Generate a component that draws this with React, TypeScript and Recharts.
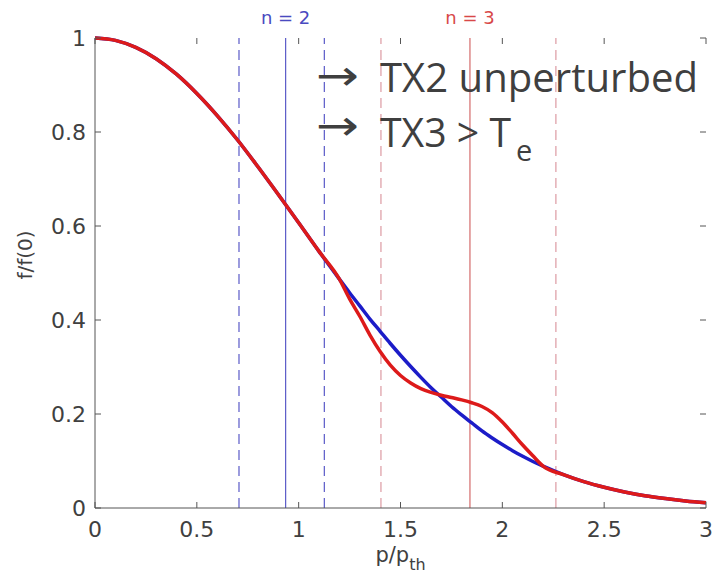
import { LineChart, Line, XAxis, YAxis, ReferenceLine } from 'recharts';

// p / p_th sample points
const P = [
  0, 0.1, 0.2, 0.3, 0.4, 0.5, 0.6, 0.7, 0.8, 0.9, 1.0, 1.1, 1.2,
  1.25, 1.3, 1.35, 1.4, 1.45, 1.5, 1.55, 1.6, 1.65, 1.7, 1.75, 1.8, 1.85, 1.9, 1.95, 2.0,
  2.05, 2.1, 2.15, 2.2, 2.3, 2.4, 2.5, 2.6, 2.7, 2.8, 2.9, 3.0,
];

// unperturbed Maxwellian (blue)
const MAXWELLIAN = [
  1.0, 0.995, 0.98, 0.956, 0.923, 0.882, 0.835, 0.783, 0.726, 0.667, 0.607, 0.546, 0.487,
  0.458, 0.43, 0.402, 0.376, 0.35, 0.325, 0.301, 0.278, 0.256, 0.236, 0.216, 0.198, 0.181, 0.164, 0.149, 0.135,
  0.122, 0.11, 0.099, 0.089, 0.071, 0.056, 0.044, 0.034, 0.026, 0.02, 0.015, 0.011,
];

// distribution with n = 3 heating (red)
const PERTURBED = [
  1.0, 0.995, 0.98, 0.956, 0.923, 0.882, 0.835, 0.783, 0.726, 0.667, 0.607, 0.546, 0.487,
  0.445, 0.408, 0.368, 0.333, 0.304, 0.282, 0.266, 0.254, 0.246, 0.24, 0.235, 0.23, 0.224, 0.216, 0.203, 0.183,
  0.159, 0.134, 0.111, 0.089, 0.071, 0.056, 0.044, 0.034, 0.026, 0.02, 0.015, 0.011,
];

const X_TICKS = [0, 0.5, 1, 1.5, 2, 2.5, 3];
const Y_TICKS = [0, 0.2, 0.4, 0.6, 0.8, 1];

// resonance positions and their widths
const N2_RES = 0.936;
const N2_EDGES = [0.707, 1.126];
const N3_RES = 1.841;
const N3_EDGES = [1.404, 2.263];

const data = P.map((p, i) => ({ p, maxw: MAXWELLIAN[i], pert: PERTURBED[i] }));

const W = 713;
const H = 583;
const M = { top: 38, right: 7, left: 0, bottom: 0 };
const X_AXIS_H = 75;
const Y_AXIS_W = 95;
const PLOT_TOP = M.top;
const PLOT_BOTTOM = H - M.bottom - X_AXIS_H;
const PLOT_LEFT = M.left + Y_AXIS_W;
const PLOT_RIGHT = W - M.right;
const TICK = 6;

const AXIS = '#555';
const TXT = '#404040';
const FONT = 'DejaVu Sans';

// MATLAB style: ticks point inward on all four sides
const XTick = ({ x, payload }: any) => (
  <g>
    <line x1={x} x2={x} y1={PLOT_BOTTOM} y2={PLOT_BOTTOM - TICK} stroke={AXIS} />
    <line x1={x} x2={x} y1={PLOT_TOP} y2={PLOT_TOP + TICK} stroke={AXIS} />
    <text x={x} y={PLOT_BOTTOM + 29} textAnchor="middle" fontSize={22} fill={TXT} fontFamily={FONT}>
      {payload.value}
    </text>
  </g>
);

const YTick = ({ y, payload }: any) => (
  <g>
    <line x1={PLOT_LEFT} x2={PLOT_LEFT + TICK} y1={y} y2={y} stroke={AXIS} />
    <line x1={PLOT_RIGHT} x2={PLOT_RIGHT - TICK} y1={y} y2={y} stroke={AXIS} />
    <text x={PLOT_LEFT - 9} y={y + 8} textAnchor="end" fontSize={22} fill={TXT} fontFamily={FONT}>
      {payload.value}
    </text>
  </g>
);

const YTitle = ({ viewBox }: any) => {
  const x = viewBox.x + 32;
  const y = viewBox.y + viewBox.height / 2 - 18;
  return (
    <text x={x} y={y} transform={`rotate(-90 ${x} ${y})`} textAnchor="middle" fontSize={20} fill={TXT} fontFamily={FONT}>
      f/f(0)
    </text>
  );
};

const XTitle = ({ viewBox }: any) => {
  const x = viewBox.x + viewBox.width / 2;
  const y = viewBox.y + 54;
  return (
    <text x={x} y={y} textAnchor="middle" fontSize={21} fill={TXT} fontFamily={FONT}>
      <tspan>p/p</tspan>
      <tspan dy={8} fontSize={16}>th</tspan>
    </text>
  );
};

export default function App() {
  return (
    <div style={{ position: 'absolute', left: 0, top: 0, width: W, height: H, background: '#fff' }}>
      <LineChart width={W} height={H} data={data} margin={M}>
        <XAxis
          dataKey="p"
          type="number"
          domain={[0, 3]}
          ticks={X_TICKS}
          height={X_AXIS_H}
          tickLine={false}
          tick={<XTick />}
          stroke={AXIS}
          label={<XTitle />}
        />
        <XAxis
          xAxisId="top"
          orientation="top"
          dataKey="p"
          type="number"
          domain={[0, 3]}
          ticks={X_TICKS}
          height={0}
          tickLine={false}
          tick={false}
          stroke={AXIS}
        />
        <YAxis
          type="number"
          domain={[0, 1]}
          ticks={Y_TICKS}
          width={Y_AXIS_W}
          tickLine={false}
          tick={<YTick />}
          stroke={AXIS}
          label={<YTitle />}
        />
        <YAxis
          yAxisId="right"
          orientation="right"
          type="number"
          domain={[0, 1]}
          ticks={Y_TICKS}
          width={0}
          tickLine={false}
          tick={false}
          stroke={AXIS}
        />

        {N2_EDGES.map((x) => (
          <ReferenceLine key={'b' + x} x={x} stroke="#5a5ac8" strokeWidth={1.2} strokeDasharray="10 6" />
        ))}
        <ReferenceLine
          x={N2_RES}
          stroke="#5a5ac8"
          strokeWidth={1.2}
          label={{ value: 'n = 2', position: 'top', offset: 14, fill: '#4a4ac0', fontSize: 18, fontFamily: FONT }}
        />
        {N3_EDGES.map((x) => (
          <ReferenceLine key={'r' + x} x={x} stroke="#dc9aa2" strokeWidth={1.2} strokeDasharray="10 6" />
        ))}
        <ReferenceLine
          x={N3_RES}
          stroke="#d46a6a"
          strokeWidth={1.2}
          label={{ value: 'n = 3', position: 'top', offset: 14, fill: '#d84848', fontSize: 18, fontFamily: FONT }}
        />

        <Line type="monotone" dataKey="maxw" stroke="#1c1cc8" strokeWidth={3.5} dot={false} isAnimationActive={false} />
        <Line type="monotone" dataKey="pert" stroke="#dd1a1a" strokeWidth={3.5} dot={false} isAnimationActive={false} />
      </LineChart>

      <svg width={W} height={H} style={{ position: 'absolute', left: 0, top: 0, pointerEvents: 'none' }}>
        <g fill="#3f3f3f" fontFamily="Open Sans">
          <text x={316} y={90} fontSize={42} fontFamily={FONT} textLength={43} lengthAdjust="spacingAndGlyphs">→</text>
          <text x={380} y={92} fontSize={41} textLength={318} lengthAdjust="spacingAndGlyphs">TX2 unperturbed</text>
          <text x={316} y={140} fontSize={42} fontFamily={FONT} textLength={43} lengthAdjust="spacingAndGlyphs">→</text>
          <text x={380} y={147} fontSize={41} textLength={131} lengthAdjust="spacingAndGlyphs">TX3 &gt; T</text>
          <text x={516} y={161} fontSize={29}>e</text>
        </g>
      </svg>
    </div>
  );
}
